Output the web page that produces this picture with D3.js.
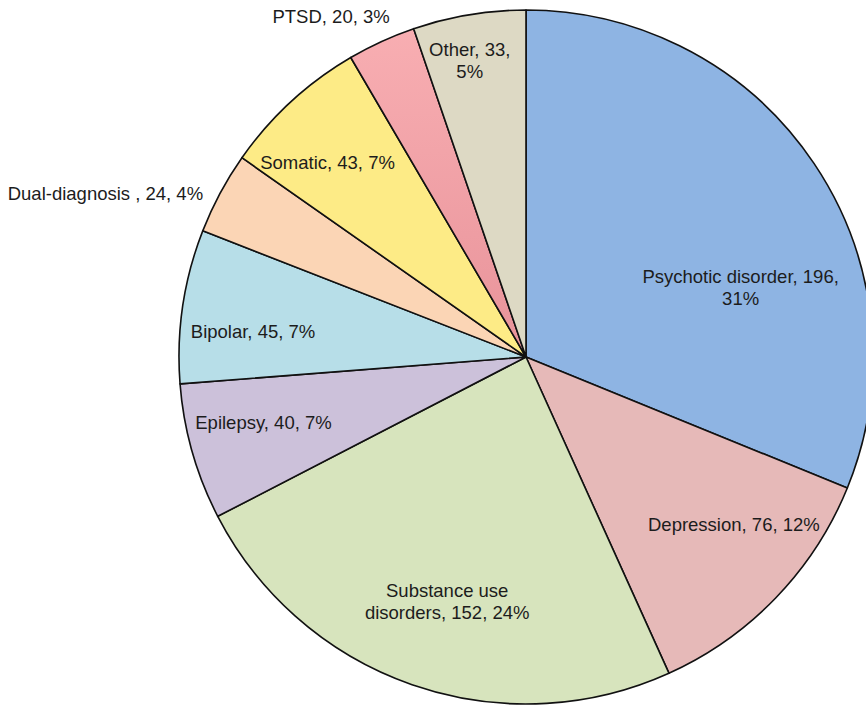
<!DOCTYPE html>
<html>
<head>
<meta charset="utf-8">
<script src="https://cdn.jsdelivr.net/npm/d3@7"></script>
<style>
  html, body { margin: 0; padding: 0; background: #fff; overflow: hidden; }
  svg { display: block; }
  text { font-family: "Liberation Sans", Arial, sans-serif; font-size: 18.5px; fill: #1c1c1c; }
</style>
</head>
<body>
<div id="chart"></div>
<script>
// data, clockwise from 12 o'clock
var categories = ["Psychotic disorder", "Depression", "Substance use disorders", "Epilepsy", "Bipolar",
                  "Dual-diagnosis ", "Somatic", "PTSD", "Other"];
var counts = [196, 76, 152, 40, 45, 24, 43, 20, 33];
var percentLabels = ["31%", "12%", "24%", "7%", "7%", "4%", "7%", "3%", "5%"];
var colors = ["#8eb4e3", "#e6b9b8", "#d7e4bd", "#ccc1da", "#b7dee8", "#fbd5b5", "#fdeb86", "#f4a7ac", "#ddd9c4"];

// label layout: radius as share of pie radius, angle shift in degrees, line breaks
var labelRadius = [0.65, 0.77, 0.74, 0.78, 0.79, 1.3, 0.8, 1.13, 0.87];
var labelShift = [16, -5, -1.3, 1.8, -3.2, -7, -3, -5.2, -1.3];
var labelLines = [
  ["Psychotic disorder, 196,", "31%"],
  ["Depression, 76, 12%"],
  ["Substance use", "disorders, 152, 24%"],
  ["Epilepsy, 40, 7%"],
  ["Bipolar, 45, 7%"],
  ["Dual-diagnosis , 24, 4%"],
  ["Somatic, 43, 7%"],
  ["PTSD, 20, 3%"],
  ["Other, 33,", "5%"]
];

var width = 866, height = 708;
var cx = 526, cy = 357, R = 347;

var svg = d3.select("#chart").append("svg")
  .attr("width", width)
  .attr("height", height);

var dataset = categories.map(function (c, i) {
  return { name: c, value: counts[i], i: i };
});

var pie = d3.pie().sort(null).value(function (d) { return d.value; });
var arcs = pie(dataset);

var arc = d3.arc().innerRadius(0).outerRadius(R);

var g = svg.append("g").attr("transform", "translate(" + cx + "," + cy + ")");

// slight shading on the PTSD slice like the original
var defs = svg.append("defs");
var grad = defs.append("linearGradient")
  .attr("id", "ptsdGrad")
  .attr("x1", "0").attr("y1", "0").attr("x2", "0").attr("y2", "1");
grad.append("stop").attr("offset", "0%").attr("stop-color", "#f8aeb2");
grad.append("stop").attr("offset", "100%").attr("stop-color", "#e8939a");

g.selectAll("path.slice")
  .data(arcs)
  .enter()
  .append("path")
  .attr("class", "slice")
  .attr("d", arc)
  .style("fill", function (d) {
    return d.data.name === "PTSD" ? "url(#ptsdGrad)" : colors[d.data.i];
  })
  .style("stroke", "#111")
  .style("stroke-width", 1.6)
  .style("stroke-linejoin", "round");

// labels
var lineH = 22;
arcs.forEach(function (d) {
  var i = d.data.i;
  var mid = (d.startAngle + d.endAngle) / 2 + labelShift[i] * Math.PI / 180;
  var r = R * labelRadius[i];
  var x = Math.sin(mid) * r;
  var y = -Math.cos(mid) * r;
  var lines = labelLines[i];
  var t = g.append("text")
    .attr("text-anchor", "middle")
    .attr("x", x)
    .attr("y", y - (lines.length - 1) * lineH / 2);
  lines.forEach(function (l, k) {
    t.append("tspan")
      .attr("x", x)
      .attr("dy", k === 0 ? "0.35em" : lineH)
      .text(l);
  });
});
</script>
</body>
</html>
